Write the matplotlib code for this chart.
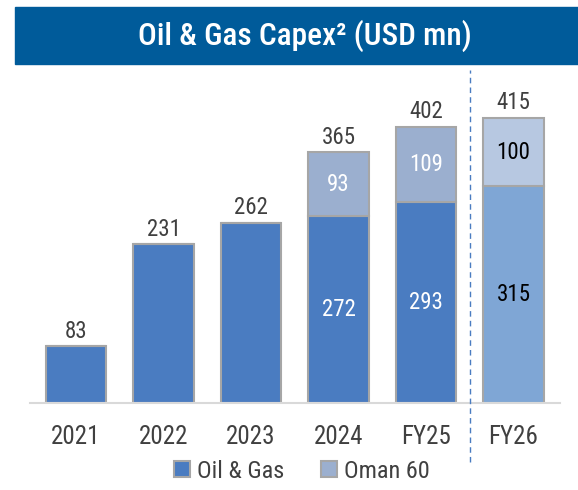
import numpy as np
import matplotlib.pyplot as plt
from matplotlib.patches import Rectangle

plt.rcParams['font.family'] = ['Roboto Condensed', 'DejaVu Sans']

categories = ['2021', '2022', '2023', '2024', 'FY25', 'FY26']
oil_gas = [83, 231, 262, 272, 293, 315]
oman60 = [0, 0, 0, 93, 109, 100]
totals = [83, 231, 262, 365, 402, 415]

c_og = '#4A7CC1'
c_om = '#9BAFCF'
c_og_fc = '#7FA6D5'
c_om_fc = '#B7C8E1'
edge = '#A6A6A6'

fig = plt.figure(figsize=(5.78, 4.9), dpi=100)

# title banner
fig.patches.append(Rectangle((15/578, (490-64)/490), 1 - 15/578, 57/490,
                             transform=fig.transFigure, color='#005B9A', zorder=0))
fig.text(305/578, (490-36)/490, 'Oil & Gas Capex² (USD mn)', color='white',
         fontsize=22.5, fontweight='medium', ha='center', va='center')

ax = fig.add_axes([30/578, 87/490, 530/578, 330/490])
x = np.arange(len(categories))
w = 0.69

fc1 = [c_og]*5 + [c_og_fc]
fc2 = [c_om]*5 + [c_om_fc]
ax.bar(x, oil_gas, w, color=fc1, edgecolor=edge, linewidth=1.5, label='Oil & Gas', zorder=2)
ax.bar(x, oman60, w, bottom=oil_gas, color=fc2, edgecolor=edge, linewidth=1.5,
       label='Oman 60', zorder=2)

for i in range(len(categories)):
    ax.text(x[i], totals[i] + 5, str(totals[i]), ha='center', va='bottom',
            fontsize=16.5, color='#404040')
    if oman60[i] > 0:
        tc = 'white' if i < 5 else 'black'
        ax.text(x[i], oil_gas[i] / 2, str(oil_gas[i]), ha='center', va='center',
                fontsize=16.5, color=tc)
        ax.text(x[i], oil_gas[i] + oman60[i] / 2, str(oman60[i]), ha='center',
                va='center', fontsize=16.5, color=tc)

ax.set_xlim(-0.526, 5.531)
ax.set_ylim(0, 480)
ax.set_xticks(x)
ax.set_xticklabels(categories, fontsize=18, color='#404040')
ax.tick_params(axis='x', length=0, pad=16)
ax.set_yticks([])
for s in ['top', 'right', 'left']:
    ax.spines[s].set_visible(False)
ax.spines['bottom'].set_color('#D9D9D9')
ax.spines['bottom'].set_linewidth(1.5)

# dashed divider before FY26
fig.add_artist(plt.Line2D([470/578, 470/578], [(490-462)/490, (490-70)/490],
                          transform=fig.transFigure, color='#4A7CC1', lw=1,
                          linestyle=(0, (4, 3))))

h1 = Rectangle((0, 0), 1, 1, facecolor=c_og, edgecolor=edge, lw=1.5)
h2 = Rectangle((0, 0), 1, 1, facecolor=c_om, edgecolor=edge, lw=1.5)
fig.legend([h1, h2], ['Oil & Gas', 'Oman 60'], loc='center', ncol=2,
           bbox_to_anchor=(302/578, (490-471)/490), frameon=False, fontsize=17.5,
           handlelength=0.65, handleheight=0.65, handletextpad=0.3, columnspacing=1.5,
           labelcolor='#404040')

fig.savefig('out.png', dpi=100)
